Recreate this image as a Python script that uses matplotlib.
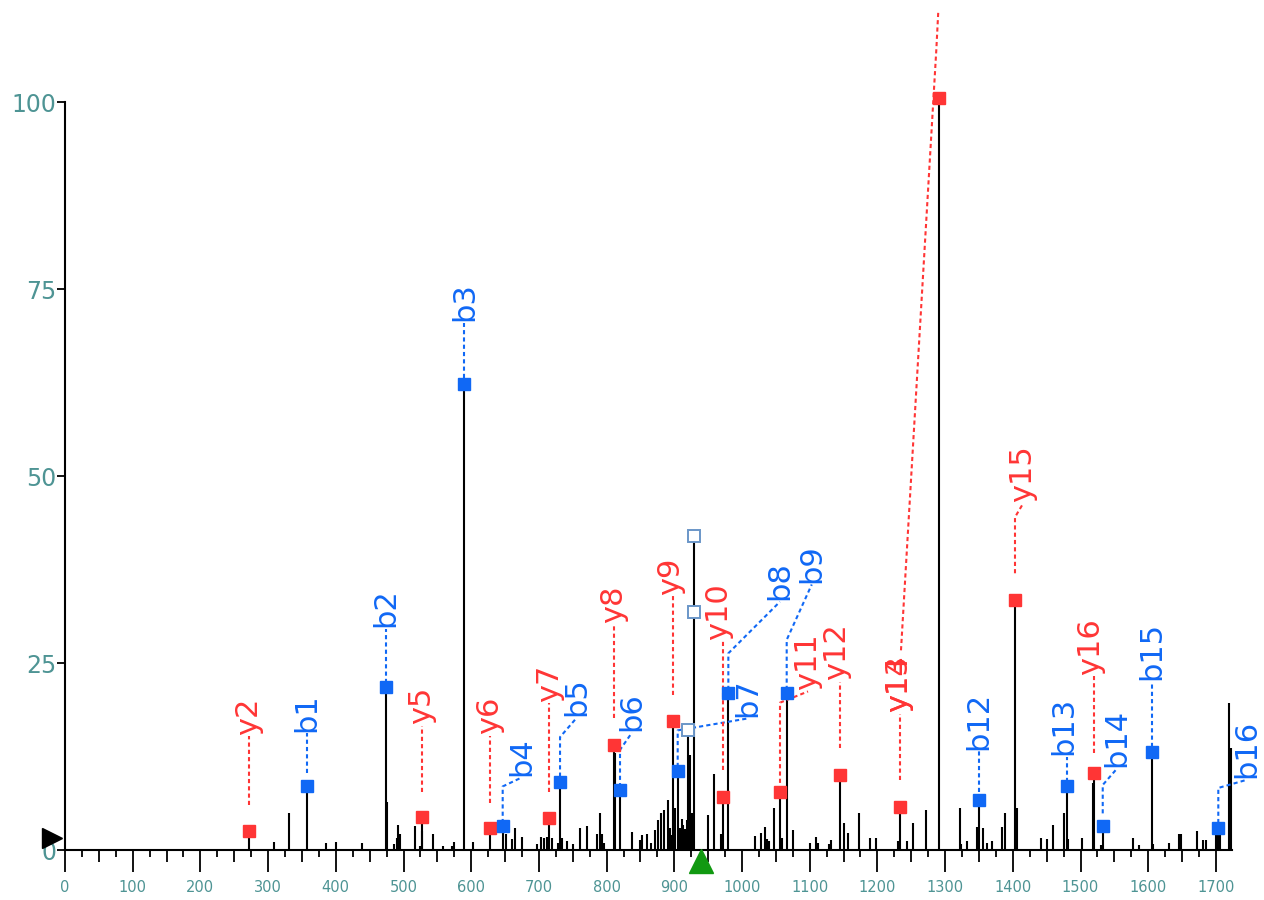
import matplotlib
matplotlib.use('Agg')
import matplotlib.pyplot as plt
import numpy as np

# ---- spectrum peaks (m/z, relative intensity) ----
peak_mz = [271.3, 309, 331, 357, 385, 401, 439, 473.7, 476, 486, 490, 492, 495, 517, 525,
           526.9, 528, 543, 558, 571, 574, 589.8, 603, 627.8, 646.5, 652, 660, 664, 675,
           697, 703, 708, 712, 715.4, 720, 728, 731.2, 734, 741, 750, 761, 771, 786, 790,
           793, 796, 811, 813, 819.8, 837, 849, 853, 859, 866, 871, 876, 880, 885, 890,
           893, 896, 898.5, 901, 905, 908, 911, 913, 916, 918, 920.7, 923, 926, 929, 950,
           959, 969, 971.5, 979.8, 1019, 1028, 1034, 1037, 1040, 1047, 1056.1, 1059, 1066,
           1075, 1100, 1109, 1112, 1129, 1132, 1144.8, 1151, 1157, 1173, 1189, 1198, 1231,
           1233.4, 1243, 1252, 1272, 1290.3, 1322, 1324, 1332, 1347, 1350.1, 1356, 1362,
           1369, 1384, 1388, 1403.2, 1406, 1441, 1451, 1460, 1476, 1479.3, 1482, 1502, 1518,
           1520.4, 1530, 1532.8, 1577, 1587, 1605.2, 1607, 1630, 1646, 1649, 1672, 1681,
           1685, 1700, 1703.5, 1706, 1720, 1722]
peak_int = [2.6, 1.1, 4.9, 8.6, 0.9, 1.1, 0.9, 21.8, 6.4, 0.8, 1.6, 3.3, 2.1, 3.2, 0.6,
            4.4, 2.6, 2.1, 0.6, 0.6, 1.1, 62.3, 1.1, 2.9, 3.2, 2.1, 1.5, 2.9, 1.7,
            0.8, 1.7, 1.6, 1.8, 4.3, 1.6, 1.0, 9.1, 1.6, 1.2, 0.8, 2.9, 3.2, 2.1, 4.9,
            2.2, 1.0, 14.0, 13.0, 8.0, 2.4, 1.4, 2.0, 2.2, 1.0, 2.7, 4.0, 4.9, 5.4, 6.7,
            3.0, 2.0, 17.2, 5.6, 10.6, 3.0, 4.2, 3.3, 2.8, 4.0, 16.0, 12.7, 5.0, 42.0, 4.7,
            10.2, 2.2, 7.1, 21.0, 1.9, 2.3, 3.1, 1.5, 1.2, 5.6, 7.7, 1.6, 21.0,
            2.7, 1.0, 1.8, 1.0, 0.8, 1.3, 10.0, 3.6, 2.3, 4.9, 1.6, 1.6, 1.2,
            5.8, 1.2, 3.6, 5.4, 100.5, 5.6, 0.8, 1.2, 3.1, 6.7, 2.9, 1.0,
            1.2, 3.1, 4.9, 33.4, 5.6, 1.6, 1.5, 3.3, 4.9, 8.6, 1.5, 1.6, 8.9,
            10.3, 0.7, 3.2, 1.6, 0.7, 13.1, 0.8, 1.0, 2.1, 2.1, 2.6, 1.4,
            1.4, 2.1, 2.9, 2.2, 19.6, 13.6]

# ---- matched fragment ions ----
ion_names = ['y2', 'b1', 'b2', 'b3', 'y5', 'y6', 'b4', 'y7', 'b5', 'y8', 'b6', 'y9', 'b7',
             'y10', 'b8', 'y11', 'b9', 'y12', 'y13', 'y14', 'b12', 'y15', 'b13', 'y16',
             'b14', 'b15', 'b16']
ion_mz = [271.3, 357, 473.7, 589.8, 526.9, 627.8, 646.5, 715.4, 731.2, 811, 819.8, 898.5,
          905, 971.5, 979.8, 1056.1, 1066, 1144.8, 1233.4, 1290.3, 1350.1, 1403.2, 1479.3,
          1520.4, 1532.8, 1605.2, 1703.5]
ion_int = [2.6, 8.6, 21.8, 62.3, 4.4, 2.9, 3.2, 4.3, 9.1, 14.0, 8.0, 17.2,
           10.6, 7.1, 21.0, 7.7, 21.0, 10.0, 5.8, 100.5, 6.7, 33.4, 8.6,
           10.3, 3.2, 13.1, 2.9]

# other marked peaks (open squares)
other_mz = [929, 929, 920.7]
other_int = [42.0, 31.8, 16.0]

precursor_mz = 939.4

# ---- label layout: (label x, label bottom, line start, knee height) ----
layout = {
    'y2': (271.3, 15.4, 6.0, None), 'b1': (357, 15.8, 10.3, None),
    'b2': (473.7, 29.8, 22.3, None), 'b3': (589.8, 70.7, 63.1, None),
    'y5': (526.9, 16.8, 7.8, None), 'y6': (627.8, 15.5, 6.3, None),
    'b4': (674.6, 9.9, 3.6, 8.5), 'y7': (715.4, 19.8, 7.8, None),
    'b5': (756, 17.9, 9.8, 15.1), 'y8': (811, 30.3, 17.6, None),
    'b6': (837.5, 15.9, 8.4, 13.4), 'y9': (895, 34.1, 20.7, None),
    'b7': (1009, 17.8, 11.1, 16.0), 'y10': (966, 28.1, 10.7, None),
    'b8': (1056, 33.4, 21.4, 26.3), 'y11': (1097.5, 21.4, 8.0, 19.7),
    'b9': (1103, 35.7, 21.4, 28.1), 'y12': (1140, 22.7, 13.6, None),
    'y13': (1232, 18.4, 9.4, None), 'y14': (1232, 18.4, None, None),
    'b12': (1350, 13.4, 7.8, None), 'y15': (1415, 46.5, 37.0, 44.5),
    'b13': (1475, 12.7, 9.1, None), 'y16': (1515, 23.4, 13.0, None),
    'b14': (1554, 11.1, 4.9, 8.7), 'b15': (1605, 22.7, 13.8, None),
    'b16': (1746, 9.6, 3.6, 8.3),
}
y14_path = [(1234.8, 26.7), (1287.0, 107.0), (1290.0, 112.3)]

RED = '#ff3535'
BLUE = '#1068f5'
TEAL = '#4e9494'

fig = plt.figure(figsize=(12.64, 9), dpi=100)
ax = fig.add_axes([0, 0, 1, 1])
ax.set_xlim(-96.0, 1771.0)
ax.set_ylim(-6.68, 113.64)
ax.patch.set_visible(False)

# stems
ax.vlines(peak_mz, 0, peak_int, color='black', lw=1.5, zorder=2)

# connectors, squares and labels
for name, mz, it in zip(ion_names, ion_mz, ion_int):
    col = RED if name.startswith('y') else BLUE
    lx, ly, start, knee = layout[name]
    if name == 'y14':
        px, py = zip(*y14_path)
    elif knee is None:
        px, py = [mz, mz], [start, ly - 0.2]
    else:
        px, py = [mz, mz, lx], [start, knee, ly - 0.2]
    ax.plot(px, py, color=col, lw=1.5, ls=(0, (2, 1.5)), zorder=3, clip_on=False)
    ax.plot([mz], [it], marker='s', ms=8, color=col, mec=col, zorder=4)
    ax.text(lx, ly, name, rotation=90, ha='center', va='bottom', fontsize=22,
            color=col, zorder=5)

ax.plot(other_mz, other_int, ls='none', marker='s', ms=9, mfc='white',
        mec='#6a96c8', mew=1.4, zorder=4)

# precursor marker and left marker
ax.plot([precursor_mz], [-1.5], marker='^', ms=17, color='#119911', zorder=6,
        clip_on=False)
ax.plot([-19], [1.6], marker='>', ms=14, color='black', zorder=6, clip_on=False)

# axes styling
for s in ['top', 'right']:
    ax.spines[s].set_visible(False)
ax.spines['left'].set_position(('data', 0))
ax.spines['bottom'].set_position(('data', 0))
ax.spines['left'].set_bounds(0, 100)
ax.spines['bottom'].set_bounds(0, 1723)
ax.spines['left'].set_linewidth(1.5)
ax.spines['bottom'].set_linewidth(1.5)

ax.set_yticks([0, 25, 50, 75, 100])
ax.tick_params(axis='y', direction='out', length=5.8, width=1.3, pad=0.5,
               labelsize=17, labelcolor=TEAL)

ax.set_xticks(np.arange(0, 1701, 100))
ax.set_xticks([v for v in np.arange(25, 1701, 25) if v % 100 != 0], minor=True)
ax.tick_params(axis='x', which='major', direction='out', length=15.8, width=1.3,
               pad=5.5, labelsize=10.5, labelcolor=TEAL)
ax.tick_params(axis='x', which='minor', direction='out', length=5, width=1.3)
minor_locs = ax.xaxis.get_minorticklocs()
for loc, tk in zip(minor_locs, ax.xaxis.get_minor_ticks(len(minor_locs))):
    if loc % 100 == 50:
        tk.tick1line.set_markersize(8.6)

fig.savefig('out.png', dpi=100)
